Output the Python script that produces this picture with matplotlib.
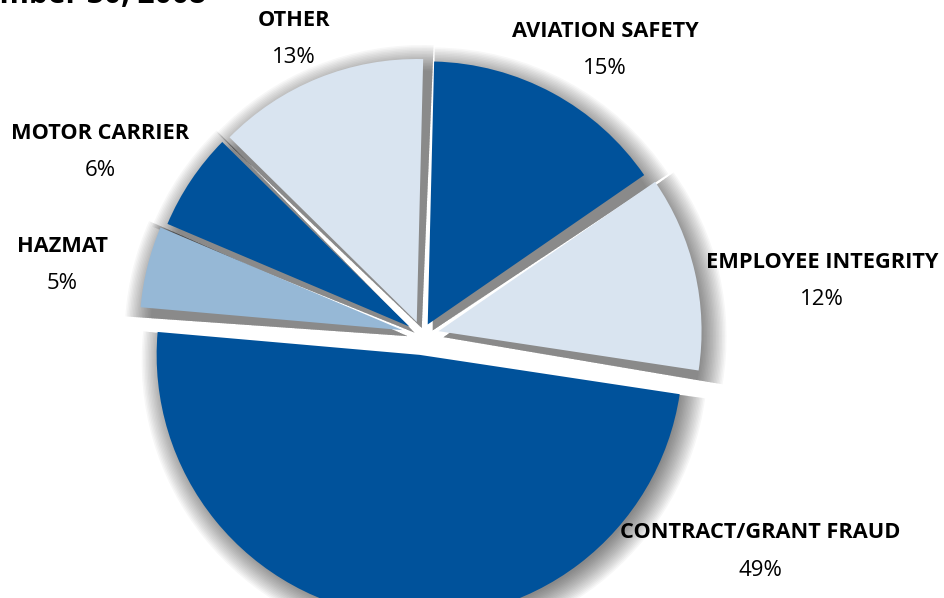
import matplotlib
matplotlib.use("Agg")
from matplotlib import pyplot as plt
from matplotlib.patches import Wedge

# data, in the order the slices are drawn (counter-clockwise from the left)
labels = ["CONTRACT/GRANT FRAUD", "EMPLOYEE INTEGRITY", "AVIATION SAFETY",
          "OTHER", "MOTOR CARRIER", "HAZMAT"]
shares = [49, 12, 15, 13, 6, 5]
colors = ["#00529b", "#d9e4f0", "#00529b", "#d9e4f0", "#00529b", "#96b8d6"]

# label positions in pixels (x, y from top)
label_pos = [(760, 533), (822, 262), (605, 31), (294, 20), (100, 133), (62, 246)]

W, H = 945, 598
fig = plt.figure(figsize=(W / 100, H / 100), dpi=100)
ax = fig.add_axes([0, 0, 1, 1])

cx, cy, r = 422, H - 335, 263
# offsets of the slices from the centre, in pixels
explode = [20, 17, 12, 14, 15, 20]
wedges, _ = ax.pie(shares, colors=colors, explode=explode, startangle=175,
                   center=(cx, cy), radius=r, frame=True,
                   wedgeprops=dict(linewidth=0, zorder=3))
ax.set_xlim(0, W)
ax.set_ylim(0, H)
ax.set_aspect("equal")
ax.axis("off")

# soft drop shadow behind every wedge
for w in wedges:
    x0, y0 = w.center
    for i in range(18):
        grow = 20 - i * 1.5
        sh = Wedge((x0 + 5, y0 - 6), w.r + grow, w.theta1 - 1.0, w.theta2 + 1.0,
                   facecolor="black", alpha=0.03, linewidth=0, zorder=1)
        ax.add_patch(sh)

font = "Open Sans"
for (px, py), name, val in zip(label_pos, labels, shares):
    ax.text(px, H - py, name, ha="center", va="center", fontsize=15.7,
            fontweight="bold", family=font, color="black")
    ax.text(px, H - py - 37, "{}%".format(val), ha="center", va="center",
            fontsize=16, family=font, color="black")

# title, mostly cut off by the top edge
ax.text(206, H - 3, "September 30, 2008", ha="right", va="baseline",
        fontsize=21.5, fontweight="bold", family=font, color="black")

fig.savefig("out.png", dpi=100)
